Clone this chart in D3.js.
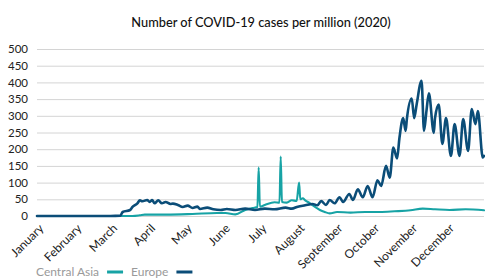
<!DOCTYPE html>
<html>
<head>
<meta charset="utf-8">
<script src="https://cdn.jsdelivr.net/npm/d3@7"></script>
<style>
  html, body { margin: 0; padding: 0; background: #fff; }
  svg { display: block; }
</style>
</head>
<body>
<svg id="chart" width="485" height="280"></svg>
<script>
const title = "Number of COVID-19 cases per million (2020)";
const seriesNames = ["Central Asia", "Europe"];
const seriesColors = ["#17A3A5", "#0B4D78"];
const yTicks = [0, 50, 100, 150, 200, 250, 300, 350, 400, 450, 500];
const monthLabels = ["January", "February", "March", "April", "May", "June",
  "July", "August", "September", "October", "November", "December"];

const europeDates = [
  "2020-01-01","2020-03-01","2020-03-09","2020-03-11","2020-03-17","2020-03-19","2020-03-23","2020-03-25",
  "2020-03-27","2020-03-31","2020-04-02","2020-04-04","2020-04-06","2020-04-09","2020-04-12","2020-04-15",
  "2020-04-19","2020-04-21","2020-04-25","2020-04-29","2020-05-03","2020-05-07","2020-05-11","2020-05-13",
  "2020-05-19","2020-05-24","2020-05-30","2020-06-04","2020-06-11","2020-06-19","2020-06-27","2020-07-05",
  "2020-07-13","2020-07-22","2020-07-27","2020-08-01","2020-08-07","2020-08-13","2020-08-17","2020-08-20",
  "2020-08-24","2020-08-27","2020-08-31","2020-09-04","2020-09-07","2020-09-12","2020-09-15","2020-09-19",
  "2020-09-23","2020-09-27","2020-10-01","2020-10-05","2020-10-08","2020-10-12","2020-10-15","2020-10-18",
  "2020-10-21","2020-10-23","2020-10-26","2020-10-28","2020-10-29","2020-11-02","2020-11-04","2020-11-06",
  "2020-11-10","2020-11-12","2020-11-14","2020-11-16","2020-11-20","2020-11-21","2020-11-24","2020-11-27",
  "2020-11-30","2020-12-04","2020-12-07","2020-12-11","2020-12-14","2020-12-18","2020-12-21","2020-12-24",
  "2020-12-26","2020-12-30","2020-12-31"
];
const europeValues = [
  0, 0, 1, 12, 18, 27, 38, 47,
  44, 48, 42, 48, 38, 47, 38, 42,
  36, 37, 33, 27, 31, 24, 28, 21,
  25, 20, 18, 21, 18, 22, 18, 22,
  20, 25, 22, 28, 32, 36, 32, 45,
  33, 48, 38, 56, 42, 66, 48, 80,
  56, 90, 56, 107, 90, 150, 115, 205,
  172, 235, 293, 255, 290, 352, 293, 334,
  405, 255, 314, 367, 249, 293, 334, 216,
  293, 180, 275, 180, 290, 195, 320, 275,
  314, 175, 180
];

const centralAsiaDates = [
  "2020-01-01","2020-03-19","2020-03-25","2020-03-29","2020-04-16","2020-05-07","2020-05-27","2020-06-03",
  "2020-06-11","2020-06-19","2020-06-25","2020-06-29","2020-06-30","2020-07-01","2020-07-05","2020-07-13",
  "2020-07-17","2020-07-18","2020-07-19","2020-07-23","2020-07-27","2020-07-31","2020-08-02","2020-08-03",
  "2020-08-05","2020-08-07","2020-08-11","2020-08-15","2020-08-19","2020-08-23","2020-08-27","2020-09-02",
  "2020-09-13","2020-09-25","2020-10-07","2020-10-19","2020-11-01","2020-11-11","2020-11-21","2020-12-03",
  "2020-12-16","2020-12-31"
];
const centralAsiaValues = [
  0, 0, 2, 4, 4, 6, 9, 9,
  5, 18, 24, 27, 145, 28, 33, 41,
  40, 178, 42, 40, 47, 45, 100, 50,
  53, 47, 38, 27, 18, 12, 8, 12,
  10, 12, 12, 14, 17, 22, 20, 18,
  20, 17
];

const parse = d3.timeParse("%Y-%m-%d");
const series = [
  { name: seriesNames[0], color: seriesColors[0], width: 2.1,
    data: centralAsiaDates.map((d, i) => ({ date: parse(d), value: centralAsiaValues[i] })) },
  { name: seriesNames[1], color: seriesColors[1], width: 2.6,
    data: europeDates.map((d, i) => ({ date: parse(d), value: europeValues[i] })) }
];

const svg = d3.select("#chart");
const margin = { left: 37, right: 1, top: 49, bottom: 64 };
const W = 485, H = 280;
const FONT = "Lato, 'Open Sans', sans-serif";

const x = d3.scaleTime()
  .domain([parse("2020-01-01"), parse("2020-12-31")])
  .range([margin.left, W - margin.right]);
const y = d3.scaleLinear().domain([0, 500]).range([H - margin.bottom, margin.top]);

// title
svg.append("text")
  .attr("x", (margin.left + W) / 2)
  .attr("y", 27)
  .attr("text-anchor", "middle")
  .attr("font-family", FONT)
  .attr("font-size", 12.8)
  .attr("font-weight", 500)
  .attr("fill", "#111")
  .text(title);

// y axis with gridlines
const yAxis = d3.axisLeft(y).tickValues(yTicks).tickSize(-(W - margin.right - margin.left)).tickPadding(9);
const gy = svg.append("g").attr("transform", `translate(${margin.left},0)`).call(yAxis);
gy.select(".domain").remove();
gy.selectAll(".tick line").attr("stroke", "#d4d4d4").attr("stroke-width", 1);
gy.selectAll(".tick text")
  .attr("font-family", FONT)
  .attr("font-size", 11.5)
  .attr("fill", "#222");

// x axis month labels
const monthStarts = monthLabels.map((m, i) => new Date(2020, i, 1));
const xAxis = d3.axisBottom(x).tickValues(monthStarts).tickFormat((d, i) => monthLabels[i]).tickSize(0).tickPadding(0);
const gx = svg.append("g").attr("transform", `translate(0,${H - margin.bottom})`).call(xAxis);
gx.select(".domain").remove();
gx.selectAll(".tick text")
  .attr("font-family", FONT)
  .attr("font-size", 12)
  .attr("fill", "#222")
  .attr("text-anchor", "end")
  .attr("dy", 0)
  .attr("y", 0)
  .attr("transform", "translate(7,13) rotate(-45)");

// lines
const line = d3.line()
  .x(d => x(d.date))
  .y(d => y(d.value))
  .curve(d3.curveMonotoneX);

svg.append("g").selectAll("path")
  .data(series)
  .join("path")
  .attr("d", d => line(d.data))
  .attr("fill", "none")
  .attr("stroke", d => d.color)
  .attr("stroke-width", d => d.width)
  .attr("stroke-linejoin", "round")
  .attr("stroke-linecap", "round");

// legend: label followed by swatch
const legend = svg.append("g").attr("transform", "translate(36,276)");
let lx = 0;
series.forEach(s => {
  const t = legend.append("text")
    .attr("x", lx).attr("y", 0)
    .attr("font-family", FONT)
    .attr("font-size", 12)
    .attr("fill", "#9a9a9a")
    .text(s.name);
  const tw = t.node().getComputedTextLength();
  legend.append("line")
    .attr("x1", lx + tw + 8).attr("x2", lx + tw + 24)
    .attr("y1", -4).attr("y2", -4)
    .attr("stroke", s.color).attr("stroke-width", 3);
  lx += tw + 32;
});
</script>
</body>
</html>
